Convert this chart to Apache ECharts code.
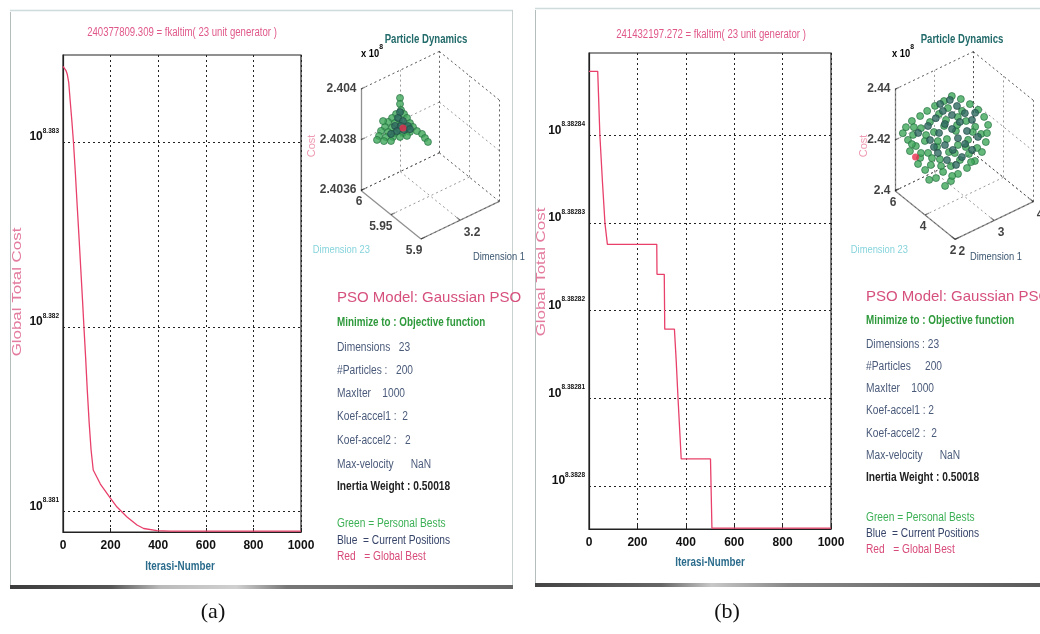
<!DOCTYPE html>
<html>
<head>
<meta charset="utf-8">
<script src="https://cdn.jsdelivr.net/npm/echarts@6/dist/echarts.min.js"></script>
<style>
  html, body { margin: 0; padding: 0; background: #fff; }
  #main { width: 1040px; height: 634px; }
</style>
</head>
<body>
<div id="main"></div>
<script>
// ---------------- convergence of the global best cost ----------------
const bestA = 240377809.309;
const bestB = 241432197.272;

const iterA = [0, 4, 12, 18, 24, 30, 37, 44, 52, 60, 68, 75, 82, 88, 95, 102, 110, 118, 127, 157, 199, 227, 269, 311, 339, 395, 450, 1000];
const costA = [241773659, 241770654, 241761616, 241749573, 241725511, 241671354, 241611212, 241545059,
               241451889, 241349728, 241250621, 241160551, 241070506, 240989523, 240899573, 240800609,
               240701742, 240620879, 240560977, 240519055, 240477157, 240450235, 240420308, 240396366,
               240385886, 240379305, bestA, bestA];

const iterB = [0, 36, 40, 45, 55, 66, 76, 280, 281, 311, 313, 353, 360, 368, 375, 381, 502, 508, 1000];
const costB = [241461172, 241461172, 241459379, 241457099, 241454313, 241451527, 241450198, 241450198,
               241448298, 241448298, 241444816, 241444816, 241442916, 241440384, 241438358, 241436585,
               241436585, bestB, bestB];

// log10 exponents of the cost-axis ticks and the visible exponent range
const expTicksA = [8.381, 8.382, 8.383];
const expTicksB = [8.3828, 8.38281, 8.38282, 8.38283, 8.38284];
const expRangeA = [Math.log10(bestA) - 0.0000043, 8.38347];
const expRangeB = [Math.log10(bestB) - 0.0000001, 8.3828494];

// ---------------- particle swarm snapshots: [dimension 1, dimension 23, cost x 1e8] ----------------
const boxA = { d1: [3.15, 3.25], d23: [5.9, 6.0], cost: [2.4036, 2.404] };
const boxB = { d1: [2, 4], d23: [2, 6], cost: [2.40, 2.44] };
const ticksA = { d1: [3.2], d23: [5.9, 5.95, 6], cost: [2.4036, 2.4038, 2.404] };
const ticksB = { d1: [2, 3, 4], d23: [2, 4, 6], cost: [2.4, 2.42, 2.44] };

const personalBestA = [
  [3.1845,5.98,2.403952],[3.1845,5.98,2.403928],[3.1858,5.98,2.403902],[3.1794,5.98,2.403896],
  [3.1896,5.98,2.403881],[3.1743,5.98,2.403888],[3.1832,5.98,2.403871],[3.1934,5.98,2.40386],
  [3.1692,5.98,2.40388],[3.1781,5.98,2.403863],[3.1870,5.98,2.403845],[3.1972,5.98,2.403834],
  [3.1653,5.98,2.403866],[3.1743,5.98,2.403849],[3.1832,5.98,2.403831],[3.1921,5.98,2.403822],
  [3.2011,5.98,2.403813],[3.1602,5.98,2.403858],[3.1692,5.98,2.40384],[3.1781,5.98,2.403823],
  [3.1883,5.98,2.403808],[3.1972,5.98,2.403799],[3.2062,5.98,2.403789],[3.1577,5.98,2.403842],
  [3.1666,5.98,2.403824],[3.1755,5.98,2.403811],[3.1845,5.98,2.403798],[3.1934,5.98,2.403789],
  [3.1551,5.98,2.40383],[3.1640,5.98,2.403812],[3.1730,5.98,2.403799],[3.1628,5.98,2.403893],
  [3.1896,5.95,2.40386],[3.1934,5.95,2.403838],[3.1972,5.95,2.403817]
];
const currentA = [
  [3.1845,5.98,2.403896],[3.1819,5.98,2.403877],[3.1883,5.98,2.403855],[3.1781,5.98,2.403851],
  [3.1858,5.98,2.403839],[3.1947,5.98,2.403826],[3.1806,5.98,2.403827],[3.1896,5.98,2.403818],
  [3.1730,5.98,2.403827],[3.1972,5.98,2.40381]
];
const globalBestPosA = [3.2008, 5.9963];

const personalBestB = [
  [3.26,5.5,2.4304],[3.06,5.5,2.4299],[3.49,5.5,2.4275],[2.83,5.5,2.4297],[3.53,5.0,2.4276],
  [2.63,5.5,2.4292],[2.97,5.0,2.4302],[3.55,4.5,2.4276],[2.45,5.5,2.4285],[2.74,5.0,2.4296],
  [3.03,4.5,2.4286],[3.51,4.0,2.4275],[2.24,5.5,2.4281],[2.51,5.0,2.4281],[3.05,4.0,2.4293],
  [2.28,6.0,2.4230],[2.28,5.0,2.4274],[2.68,4.5,2.4277],[3.09,3.5,2.4291],[3.42,3.5,2.4274],
  [2.20,6.0,2.4212],[2.27,5.5,2.4224],[2.42,4.5,2.4272],[2.79,4.0,2.4273],[3.05,3.0,2.4290],
  [2.14,5.5,2.4214],[2.38,5.0,2.4216],[2.56,4.0,2.4258],[2.91,3.5,2.4253],[3.17,3.0,2.4249],
  [2.15,5.0,2.4213],[2.31,4.0,2.4246],[2.65,3.5,2.4252],[2.95,3.0,2.4242],[2.19,5.5,2.4166],
  [2.27,4.5,2.4201],[2.42,3.5,2.4241],[2.74,3.0,2.4234],[2.88,2.5,2.4255],[2.26,5.0,2.4158],
  [2.38,4.0,2.4192],[2.51,3.0,2.4227],[2.70,2.5,2.4233],[2.34,4.5,2.4148],[2.47,3.5,2.4182],
  [2.69,3.0,2.4182],[2.08,4.2,2.4162],[2.27,3.5,2.4174],[2.46,3.0,2.4176],[2.09,3.5,2.4163],
  [2.28,3.0,2.4161],[2.13,3.0,2.4153],[2.09,4.7,2.4161],[3.33,5.0,2.4264],[2.41,5.0,2.4237],
  [3.03,3.5,2.4275],[2.41,4.0,2.4163],[2.57,3.5,2.4226],[2.29,5.5,2.4253],[2.37,4.5,2.4173],
  [2.66,3.0,2.4267],[2.92,5.0,2.4259],[3.20,3.0,2.4282],[2.24,5.5,2.4190],[2.52,4.5,2.4229],
  [2.31,3.0,2.4179],[2.03,3.8,2.4146],[2.60,2.5,2.4236],[3.01,4.5,2.4256],[2.28,5.0,2.4176]
];
const currentB = [
  [3.21,5.5,2.4292],[3.20,5.0,2.4293],[2.84,5.0,2.4300],[3.21,4.5,2.4288],[2.88,4.5,2.4305],
  [2.66,5.0,2.4285],[3.20,4.0,2.4286],[2.70,4.5,2.4283],[2.89,4.0,2.4301],[2.46,5.0,2.4269],
  [2.69,4.0,2.4288],[2.88,3.5,2.4290],[2.55,4.5,2.4259],[2.97,3.0,2.4284],[2.65,3.5,2.4279],
  [2.32,4.5,2.4248],[2.51,4.0,2.4238],[2.64,3.0,2.4281],[2.52,3.5,2.4242],[2.82,3.0,2.4244],
  [2.33,4.0,2.4220],[2.56,3.0,2.4235],[2.37,3.5,2.4213],[2.42,4.5,2.4213],[2.40,5.5,2.4222],
  [3.28,4.0,2.4308],[2.96,5.5,2.4295],[2.41,3.0,2.4215]
];
const globalBestPosB = [2.28, 5.36];

// ---------------- text of the side panels ----------------
const panelLinesA = ['Dimensions   23', '#Particles :   200', 'MaxIter    1000', 'Koef-accel1 :  2',
                     'Koef-accel2 :   2', 'Max-velocity      NaN'];
const panelLinesB = ['Dimensions : 23', '#Particles     200', 'MaxIter    1000', 'Koef-accel1 : 2',
                     'Koef-accel2 :  2', 'Max-velocity      NaN'];

// ====================================================================
const SANS = "'Liberation Sans',Arial,sans-serif";
const SERIF = "'Liberation Serif','DejaVu Serif',serif";

const chart = echarts.init(document.getElementById('main'));

// screen directions of the three axes of each 3-D box (orthographic view)
const viewA = { ox: 421, oy: 239, e1: [78.3, -37.6], e2: [-60, -48.6], e3: [0, -101.4] };
const viewB = { ox: 955, oy: 239.3, e1: [78.3, -37.6], e2: [-60, -48.6], e3: [0, -101.4] };

function projector(view, box) {
  const P = (t1, t2, t3) => [view.ox + view.e1[0] * t1 + view.e2[0] * t2 + view.e3[0] * t3,
                             view.oy + view.e1[1] * t1 + view.e2[1] * t2 + view.e3[1] * t3];
  const n = (v, r) => (v - r[0]) / (r[1] - r[0]);
  const point = p => P(n(p[0], box.d1), n(p[1], box.d23), n(p[2], box.cost));
  return { P, n, point };
}

function lineSeries(segs, style) {
  return {
    type: 'lines', coordinateSystem: 'cartesian2d', xAxisIndex: 2, yAxisIndex: 2,
    silent: true, animation: false, z: 3,
    lineStyle: style,
    data: segs.map(s => ({ coords: s }))
  };
}

function labelSeries(items, label) {
  return {
    type: 'scatter', xAxisIndex: 2, yAxisIndex: 2, silent: true, z: 4,
    symbolSize: 1, itemStyle: { color: 'rgba(0,0,0,0)' },
    label: Object.assign({ show: true, formatter: '{b}', color: '#111',
      fontFamily: SANS, fontSize: 12, fontWeight: 'bold', verticalAlign: 'middle' }, label),
    data: items
  };
}

function boxSeries(view, box, ticks, particles, current, gbest, size) {
  const { P, n, point } = projector(view, box);
  const dashed = [
    [P(0,1,1), P(1,1,1)], [P(1,1,1), P(1,0,1)], [P(1,1,0), P(1,1,1)],
    [P(1,0,0), P(1,0,1)], [P(0,1,0), P(1,1,0)], [P(1,1,0), P(1,0,0)]
  ];
  const solid = [[P(0,1,0), P(0,1,1)], [P(0,1,0), P(0,0,0)], [P(0,0,0), P(1,0,0)]];
  const tickSegs = [];
  ticks.d1.forEach(v => { const t = n(v, box.d1);
    dashed.push([P(t,0,0), P(t,1,0)], [P(t,1,0), P(t,1,1)]); tickSegs.push([P(t,0,0), P(t,0.06,0)]); });
  ticks.d23.forEach(v => { const t = n(v, box.d23);
    dashed.push([P(0,t,0), P(1,t,0)], [P(1,t,0), P(1,t,1)]); tickSegs.push([P(0,t,0), P(0.05,t,0)]); });
  ticks.cost.forEach(v => { const t = n(v, box.cost);
    dashed.push([P(0,1,t), P(1,1,t)], [P(1,1,t), P(1,0,t)]); tickSegs.push([P(0,1,t), P(0.05,1,t)]); });

  return [
    lineSeries(dashed, { color: '#333', width: 1, type: [2, 3] }),
    lineSeries(solid.concat(tickSegs), { color: '#222', width: 1.3 }),
    labelSeries(ticks.cost.map(v => ({ name: String(v), value: P(0, 1, n(v, box.cost)) })),
      { position: [-4, 0], align: 'right' }),
    labelSeries(ticks.d23.map(v => ({ name: String(v), value: P(0, n(v, box.d23), 0) })),
      { position: [2, 12], align: 'right' }),
    labelSeries(ticks.d1.map(v => ({ name: String(v), value: P(n(v, box.d1), 0, 0) })),
      { position: [4, 13], align: 'left' }),
    {
      type: 'scatter', xAxisIndex: 2, yAxisIndex: 2, silent: true, z: 5, symbolSize: size,
      itemStyle: { color: '#3fa85a', borderColor: '#1f6a3c', borderWidth: 0.8 },
      data: particles.map(point)
    },
    {
      type: 'scatter', xAxisIndex: 2, yAxisIndex: 2, silent: true, z: 6, symbolSize: size,
      itemStyle: { color: '#2f6a62', borderColor: '#1c4540', borderWidth: 0.8 },
      data: current.map(point)
    },
    {
      type: 'scatter', xAxisIndex: 2, yAxisIndex: 2, silent: true, z: 7, symbolSize: size,
      itemStyle: { color: '#e8304f' },
      data: [point(gbest)]
    }
  ];
}

function costSeries(gi, iters, costs, ticks) {
  return {
    type: 'line', xAxisIndex: gi, yAxisIndex: gi, showSymbol: false, silent: true, z: 5,
    data: iters.map((it, i) => [it, Math.log10(costs[i])]),
    lineStyle: { color: '#e8406a', width: 1.3 },
    markLine: {
      silent: true, symbol: ['none', 'none'], animation: false, precision: 6,
      lineStyle: { color: '#222', type: [2, 3], width: 1 },
      label: {
        show: true, position: 'start', distance: 4, offset: [0, -8],
        formatter: p => '{b|10}{s|' + p.value + '}',
        rich: {
          b: { fontFamily: SANS, fontSize: 12, fontWeight: 'bold', color: '#111', lineHeight: 13, padding: [6, 0, 0, 0] },
          s: { fontFamily: SANS, fontSize: 6.5, fontWeight: 'bold', color: '#111', lineHeight: 8, verticalAlign: 'top' }
        }
      },
      data: ticks.map(v => ({ yAxis: v }))
    }
  };
}

function iterAxis(gi) {
  return {
    gridIndex: gi, type: 'value', min: 0, max: 1000, interval: 200,
    axisLine: { lineStyle: { color: '#222', width: 1.2 } },
    axisTick: { inside: true, length: 4, lineStyle: { color: '#222' } },
    axisLabel: { fontFamily: SANS, fontSize: 12, fontWeight: 'bold', color: '#111', margin: 8,
                 formatter: v => String(v) },
    splitLine: { show: true, lineStyle: { color: '#222', type: [2, 3], width: 1 } }
  };
}
function expAxis(gi, range) {
  return {
    gridIndex: gi, type: 'value', min: range[0], max: range[1],
    axisLine: { show: true, lineStyle: { color: '#222', width: 1.2 } },
    axisTick: { show: false }, axisLabel: { show: false }, splitLine: { show: false }
  };
}

// ---------------- static text and frames ----------------
const gfx = [];
const grad = stops => new echarts.graphic.LinearGradient(0, 0, 1, 0, stops);
gfx.push(
  { type: 'line', silent: true, shape: { x1: 10.5, y1: 12, x2: 10.5, y2: 586 }, style: { stroke: '#b4bcbc', lineWidth: 1 } },
  { type: 'line', silent: true, shape: { x1: 10, y1: 10.5, x2: 513, y2: 10.5 }, style: { stroke: '#cfdada', lineWidth: 1.5 } },
  { type: 'line', silent: true, shape: { x1: 512.5, y1: 10, x2: 512.5, y2: 586 }, style: { stroke: '#c8d0d0', lineWidth: 1 } },
  { type: 'rect', silent: true, shape: { x: 10, y: 585, width: 503, height: 4 },
    style: { fill: grad([{ offset: 0, color: '#3c3c3c' }, { offset: 0.2, color: '#555' }, { offset: 0.3, color: '#bbb' },
      { offset: 0.45, color: '#d0d0d0' }, { offset: 0.55, color: '#777' }, { offset: 1, color: '#666' }]) } },
  { type: 'line', silent: true, shape: { x1: 535.5, y1: 10, x2: 535.5, y2: 584 }, style: { stroke: '#b4bcbc', lineWidth: 1 } },
  { type: 'line', silent: true, shape: { x1: 535, y1: 8.5, x2: 1040, y2: 8.5 }, style: { stroke: '#cfdada', lineWidth: 1.5 } },
  { type: 'rect', silent: true, shape: { x: 535, y: 583, width: 505, height: 4 },
    style: { fill: grad([{ offset: 0, color: '#444' }, { offset: 0.25, color: '#666' }, { offset: 0.35, color: '#c8c8c8' },
      { offset: 0.5, color: '#888' }, { offset: 1, color: '#5a5a5a' }]) } }
);
// text helper; sx stretches or condenses the glyphs along the text direction
const t = (x, y, text, font, fill, align, sx, rot) => ({
  type: 'text', x, y, rotation: rot || 0, scaleX: sx || 1, silent: true, z: 10,
  style: { text, font, fill, align: align || 'left', verticalAlign: 'middle' }
});
gfx.push(
  t(182, 33, bestA.toFixed(3) + ' = fkaltim( 23 unit generator )', '12px ' + SANS, '#e0588a', 'center', 0.8),
  t(711, 35, bestB.toFixed(3) + ' = fkaltim( 23 unit generator )', '12px ' + SANS, '#e0588a', 'center', 0.8),
  t(17, 292, 'Global Total Cost', '13px ' + SANS, '#e47c9e', 'center', 1.3, Math.PI / 2),
  t(541, 272, 'Global Total Cost', '13px ' + SANS, '#e47c9e', 'center', 1.3, Math.PI / 2),
  t(180, 567, 'Iterasi-Number', 'bold 12px ' + SANS, '#2b6c8c', 'center', 0.82),
  t(710, 563, 'Iterasi-Number', 'bold 12px ' + SANS, '#2b6c8c', 'center', 0.82)
);
const swarmText = (cx, x10x, costX, d23x, d1x) => [
  t(cx, 40, 'Particle Dynamics', 'bold 12px ' + SANS, '#236b6b', 'center', 0.8),
  { type: 'text', x: x10x, y: 51, silent: true, z: 10, scaleX: 0.85,
    style: { text: '{a|x 10}{b|8}', verticalAlign: 'middle',
      rich: { a: { fontFamily: SANS, fontSize: 11, fontWeight: 'bold', color: '#111', padding: [5, 0, 0, 0] },
              b: { fontFamily: SANS, fontSize: 8, fontWeight: 'bold', color: '#111', verticalAlign: 'top' } } } },
  t(costX, 146, 'Cost', '11px ' + SANS, '#ee9ab2', 'center', 1, Math.PI / 2),
  t(d23x, 250, 'Dimension 23', '11px ' + SANS, '#86d4dc', 'right', 0.85),
  t(d1x, 257, 'Dimension 1', '11px ' + SANS, '#3b5670', 'left', 0.85)
];
gfx.push(...swarmText(426, 361, 312, 370, 473));
gfx.push(...swarmText(962, 892, 864, 908, 970));
const panel = (x, ys, lines) => {
  const g = [
    t(x, ys[0], 'PSO Model: Gaussian PSO', '15px ' + SANS, '#d6507c'),
    t(x, ys[1], 'Minimize to : Objective function', 'bold 12px ' + SANS, '#2e9a3c', 'left', 0.82)
  ];
  lines.forEach((l, i) => g.push(t(x, ys[2 + i], l, '12px ' + SANS, '#4a5a7a', 'left', 0.85)));
  g.push(t(x, ys[8], 'Inertia Weight : 0.50018', 'bold 12px ' + SANS, '#222', 'left', 0.85));
  g.push(t(x, ys[9], 'Green = Personal Bests', '12px ' + SANS, '#3cb055', 'left', 0.85));
  g.push(t(x, ys[10], 'Blue  = Current Positions', '12px ' + SANS, '#36446a', 'left', 0.85));
  g.push(t(x, ys[11], 'Red   = Global Best', '12px ' + SANS, '#d84a78', 'left', 0.85));
  return g;
};
gfx.push(...panel(337, [298, 323, 348, 371, 394, 417, 441, 465, 487, 524, 541, 557], panelLinesA));
gfx.push(...panel(866, [297, 321, 345, 367, 389, 411, 434, 456, 478, 518, 534, 550], panelLinesB));
gfx.push(t(213, 612, '(a)', '22px ' + SERIF, '#111', 'center'), t(727, 612, '(b)', '22px ' + SERIF, '#111', 'center'));

chart.setOption({
  animation: false,
  backgroundColor: '#fff',
  grid: [
    { left: 63, top: 55, width: 238, height: 477, show: true, borderColor: '#222', borderWidth: 1.2, backgroundColor: 'rgba(0,0,0,0)' },
    { left: 589, top: 53, width: 242, height: 476, show: true, borderColor: '#222', borderWidth: 1.2, backgroundColor: 'rgba(0,0,0,0)' },
    { left: 0, top: 0, width: 1040, height: 634, show: false }
  ],
  xAxis: [iterAxis(0), iterAxis(1), { gridIndex: 2, type: 'value', min: 0, max: 1040, show: false }],
  yAxis: [expAxis(0, expRangeA), expAxis(1, expRangeB),
          { gridIndex: 2, type: 'value', min: 0, max: 634, inverse: true, show: false }],
  series: [
    costSeries(0, iterA, costA, expTicksA),
    costSeries(1, iterB, costB, expTicksB),
    ...boxSeries(viewA, boxA, ticksA, personalBestA, currentA, globalBestPosA.concat([bestA / 1e8]), 7),
    ...boxSeries(viewB, boxB, ticksB, personalBestB, currentB, globalBestPosB.concat([bestB / 1e8]), 7)
  ],
  graphic: gfx
});
</script>
</body>
</html>
